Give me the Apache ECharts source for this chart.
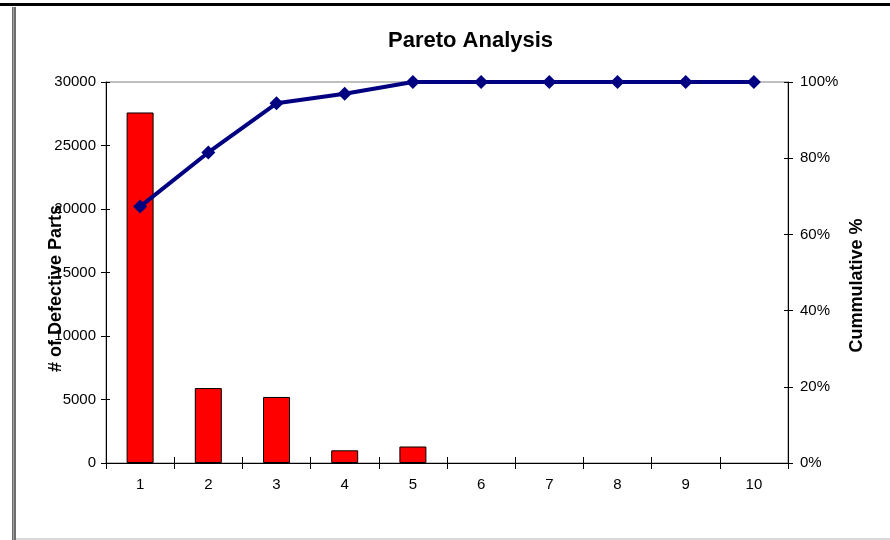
<!DOCTYPE html>
<html><head><meta charset="utf-8">
<script src="https://cdn.jsdelivr.net/npm/echarts@6/dist/echarts.min.js"></script>
<style>html,body{margin:0;padding:0;background:#fff}#c{width:890px;height:540px}</style>
</head><body><div id="c"></div>
<script>
const categories = ['1','2','3','4','5','6','7','8','9','10'];
const defects = [27600, 5900, 5200, 1000, 1300, 0, 0, 0, 0, 0];
const cumulative = [67.3, 81.5, 94.4, 96.9, 100, 100, 100, 100, 100, 100];
const leftTicks = [0, 30000, 5000];
const rightTicks = [0, 100, 20];

const F = '"Liberation Sans", Arial, sans-serif';
const chart = echarts.init(document.getElementById('c'), null, {renderer: 'canvas'});
const axisLab = {color: '#000', fontFamily: F, fontSize: 15};
const barData = defects.map(v => v === 0 ? {value: v, itemStyle: {borderWidth: 0}} : v);
chart.setOption({
  animation: false,
  backgroundColor: '#fff',
  title: {text: 'Pareto Analysis', left: 383, top: 25,
    textStyle: {fontFamily: F, fontSize: 22, fontWeight: 'bold', color: '#000'}},
  grid: {left: 106, right: 102, top: 82, bottom: 77, show: true, borderColor: '#808080', borderWidth: 1},
  graphic: [
    {type: 'rect', shape: {x: 0, y: 3, width: 890, height: 3}, style: {fill: '#000'}},
    {type: 'rect', shape: {x: 12, y: 7, width: 4, height: 533}, style: {fill: '#6e6e6e'}},
    {type: 'rect', shape: {x: 13, y: 7, width: 1, height: 533}, style: {fill: '#a0a0a0'}},
    {type: 'rect', shape: {x: 16, y: 538, width: 874, height: 2}, style: {fill: '#d8d8d8'}}
  ],
  xAxis: [
    {type: 'category', data: categories, position: 'bottom',
     axisLine: {lineStyle: {color: '#000'}},
     axisTick: {show: true, length: 6, lineStyle: {color: '#000'}},
     axisLabel: Object.assign({margin: 14}, axisLab)},
    {type: 'category', data: categories, position: 'bottom',
     axisLine: {show: false}, axisLabel: {show: false},
     axisTick: {show: true, inside: true, length: 6, lineStyle: {color: '#000'}}}
  ],
  yAxis: [
    {type: 'value', min: leftTicks[0], max: leftTicks[1], interval: leftTicks[2], position: 'left',
     name: '# of Defective Parts', nameLocation: 'middle', nameGap: 41, nameRotate: 90,
     nameMoveOverlap: false,
     nameTextStyle: {fontFamily: F, fontSize: 18, fontWeight: 'bold', color: '#000', padding: [0, 32, 0, 0]},
     axisLine: {show: true, lineStyle: {color: '#000'}},
     axisTick: {show: true, length: 5, lineStyle: {color: '#000'}},
     splitLine: {show: false},
     axisLabel: Object.assign({margin: 10, formatter: v => String(v)}, axisLab)},
    {type: 'value', min: rightTicks[0], max: rightTicks[1], interval: rightTicks[2], position: 'right',
     name: 'Cummulative %', nameLocation: 'middle', nameGap: 60, nameRotate: 90,
     nameMoveOverlap: false,
     nameTextStyle: {fontFamily: F, fontSize: 18, fontWeight: 'bold', color: '#000', padding: [0, 26, 0, 0]},
     axisLine: {show: true, lineStyle: {color: '#000'}},
     axisTick: {show: true, length: 5, lineStyle: {color: '#000'}},
     splitLine: {show: false},
     axisLabel: Object.assign({margin: 12, formatter: '{value}%'}, axisLab)},
    {type: 'value', min: leftTicks[0], max: leftTicks[1], interval: leftTicks[2], position: 'left',
     axisLine: {show: false}, axisLabel: {show: false}, splitLine: {show: false},
     axisTick: {show: true, inside: true, length: 4, lineStyle: {color: '#000'}}},
    {type: 'value', min: rightTicks[0], max: rightTicks[1], interval: rightTicks[2], position: 'right',
     axisLine: {show: false}, axisLabel: {show: false}, splitLine: {show: false},
     axisTick: {show: true, inside: true, length: 4, lineStyle: {color: '#000'}}}
  ],
  series: [
    {type: 'bar', data: barData, xAxisIndex: 0, yAxisIndex: 0, barWidth: 27,
     itemStyle: {color: '#ff0000', borderColor: '#000', borderWidth: 1}},
    {type: 'line', data: cumulative, xAxisIndex: 0, yAxisIndex: 1,
     symbol: 'diamond', symbolSize: 14,
     lineStyle: {color: '#000080', width: 4},
     itemStyle: {color: '#000080'}}
  ]
});
</script></body></html>
